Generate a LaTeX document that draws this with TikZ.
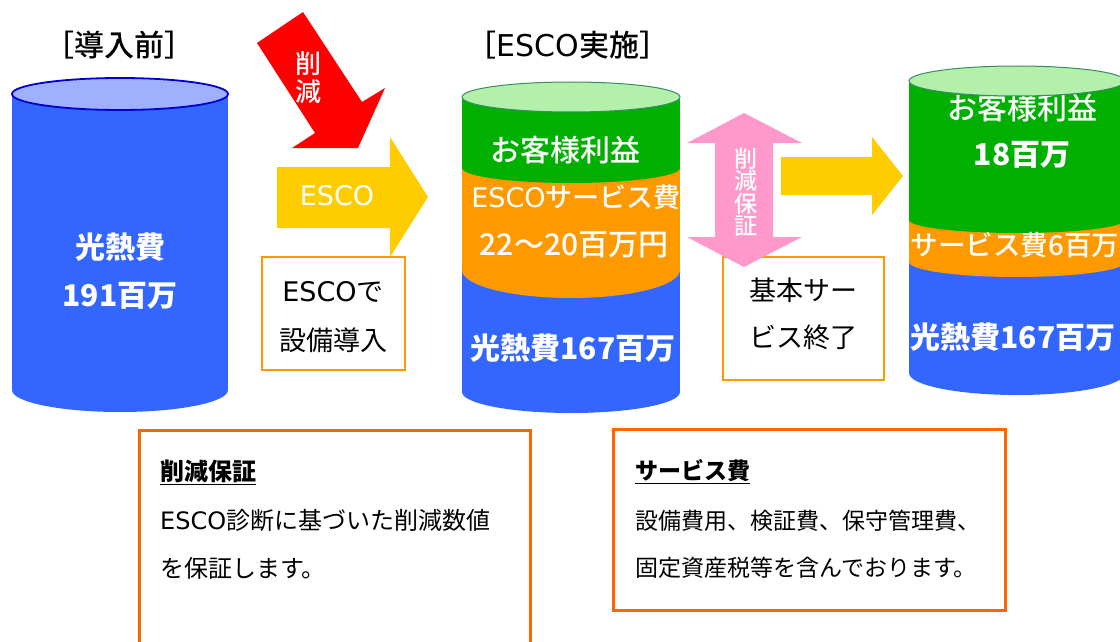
\documentclass[tikz,border=0pt]{standalone}
\usepackage{fontspec}
\setmainfont{Noto Sans CJK JP}
\newfontfamily\midfont{Noto Sans CJK JP Medium}
\newfontfamily\widelatin{DejaVu Sans}
\usepackage{tikz}
\definecolor{heatblue}{HTML}{3366FF}
\definecolor{heattop}{HTML}{9FB0FF}
\definecolor{heatline}{HTML}{0000CC}
\definecolor{profit}{HTML}{00B000}
\definecolor{profittop}{HTML}{B3F0AA}
\definecolor{profitline}{HTML}{3A8A6A}
\definecolor{service}{HTML}{FF9900}
\definecolor{escoyellow}{HTML}{FFCC00}
\definecolor{cutred}{HTML}{FF0000}
\definecolor{guarpink}{HTML}{FF99CC}
\definecolor{notebox}{HTML}{FF6600}
\newcommand{\esco}{{\widelatin ESCO}}

\begin{document}
\begin{tikzpicture}[x=1pt, y=-1pt,
    txt/.style={inner sep=0, font=\fontsize{27}{32}\selectfont},
    onbar/.style={txt, text=white},
    strong/.style={onbar, font=\fontsize{30}{34}\selectfont\bfseries},
    title/.style={txt, font=\fontsize{30}{34}\selectfont\midfont},
    stepbox/.style={draw=service, line width=2.5pt},
    notebox/.style={draw=notebox, line width=3pt},
    note/.style={txt, anchor=west, font=\fontsize{23}{28}\selectfont},
    vert/.style={onbar, align=center}
  ]
  \useasboundingbox (0,0) rectangle (1120,642);
  \clip (0,0) rectangle (1120,642);

  % before: one blue barrel
  \fill[heatblue] (12,94) rectangle (228,390);
  \fill[heatblue] (120,390) ellipse[x radius=108, y radius=22];
  \node[title] (before) at (120,45) {［導入前］};
  \node[strong] (heat) at (120,247) {光熱費};
  \node[strong] (heatval) at (120,296) {191百万};
  \filldraw[fill=heattop, draw=heatline, line width=1.8pt] (120,94) ellipse[x radius=108, y radius=16];

  % cut arrow and ESCO arrow
  \fill[cutred] (257,43) -- (303,12) -- (362,102) -- (385,88) -- (358,148) -- (292,148) -- (315,133) -- cycle;
  \node[vert, font=\fontsize{26}{28}\selectfont\midfont] (cut) at (308,78) {削\\減};
  \fill[escoyellow] (277,167) -- (390,167) -- (390,137) -- (428,197) -- (390,257) -- (390,228) -- (277,228) -- cycle;
  \node[onbar, font=\fontsize{27}{30}\selectfont] (esco) at (337,196) {\esco};
  \draw[stepbox] (262,257) rectangle (405,370);
  \node[txt] (intro1) at (333,292) {\esco で};
  \node[txt] (intro2) at (333,340) {設備導入};

  % during ESCO: three bands
  \node[title] (during) at (568,45) {［\esco 実施］};
  \fill[heatblue] (462,97) rectangle (680,392);
  \fill[heatblue] (571,392) ellipse[x radius=109, y radius=21];
  \fill[service] (462,97) rectangle (680,270);
  \fill[service] (571,270) ellipse[x radius=109, y radius=28];
  \fill[profit] (462,97) rectangle (680,168);
  \fill[profit] (571,168) ellipse[x radius=109, y radius=15];
  \node[onbar, font=\fontsize{30}{32}\selectfont\midfont] (gain) at (565,150) {お客様利益};
  \begin{scope}
    \clip (462,170) rectangle (680,230);
    \node[onbar, font=\fontsize{27}{30}\selectfont\midfont] (fee) at (576,197) {\esco サービス費};
  \end{scope}
  \node[onbar, font=\fontsize{30}{32}\selectfont\midfont] (feeval) at (574,245) {22～20百万円};
  \node[strong] (heat2) at (573,348) {光熱費167百万};
  \filldraw[fill=profittop, draw=profitline, line width=1pt] (571,97) ellipse[x radius=109, y radius=15];

  % guarantee arrow and end of service
  \draw[stepbox] (723,257) rectangle (884,380);
  \node[txt] (end1) at (803,290) {基本サー};
  \node[txt] (end2) at (803,337) {ビス終了};
  \fill[guarpink] (744,113) -- (802,143) -- (773,143) -- (773,237) -- (802,237) -- (744,267) -- (687,237) -- (715,237) -- (715,143) -- (687,143) -- cycle;
  \node[vert, font=\fontsize{23}{22.5}\selectfont\midfont] (guar) at (746,192) {削\\減\\保\\証};
  \fill[escoyellow] (781,157) -- (872,157) -- (872,137) -- (903,176) -- (872,215) -- (872,195) -- (781,195) -- cycle;

  % after: bigger profit band
  \fill[heatblue] (909,81) rectangle (1125,373);
  \fill[heatblue] (1017,373) ellipse[x radius=108, y radius=22];
  \fill[service] (909,81) rectangle (1125,262);
  \fill[service] (1017,262) ellipse[x radius=108, y radius=15];
  \fill[profit] (909,81) rectangle (1125,220);
  \fill[profit] (1017,220) ellipse[x radius=108, y radius=13];
  \node[onbar, font=\fontsize{30}{32}\selectfont\midfont] (gain3) at (1022,108) {お客様利益};
  \node[strong] (gainval3) at (1022,155) {18百万};
  \node[onbar, font=\fontsize{27.5}{32}\selectfont\midfont] (fee3) at (1015,245) {サービス費6百万};
  \node[strong] (heat3) at (1013,337) {光熱費167百万};
  \filldraw[fill=profittop, draw=profitline, line width=1pt] (1017,81) ellipse[x radius=108, y radius=15];

  % notes
  \draw[notebox] (139,430) rectangle (530,700);
  \node[note, font=\fontsize{24}{28}\selectfont\bfseries] (guarhead) at (160,472) {\underline{削減保証}};
  \node[note, font=\fontsize{24}{28}\selectfont] (guartext1) at (160,520) {\esco 診断に基づいた削減数値};
  \node[note, font=\fontsize{24}{28}\selectfont] (guartext2) at (160,568) {を保証します。};
  \draw[notebox] (613,429) rectangle (1005,610);
  \node[note, font=\fontsize{23}{28}\selectfont\bfseries] (feehead) at (635,472) {\underline{サービス費}};
  \node[note] (feetext1) at (635,521) {設備費用、検証費、保守管理費、};
  \node[note] (feetext2) at (635,568) {固定資産税等を含んでおります。};
\end{tikzpicture}
\end{document}
